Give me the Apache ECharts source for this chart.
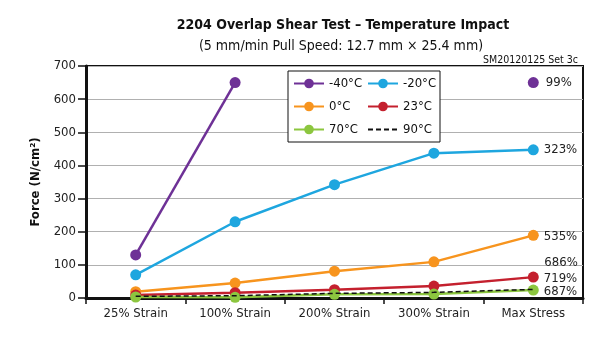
<!DOCTYPE html>
<html>
<head>
<meta charset="utf-8">
<script src="https://cdn.jsdelivr.net/npm/echarts@6/dist/echarts.min.js"></script>
<style>
  html, body { margin: 0; padding: 0; background: #fff; }
  #chart { width: 615px; height: 350px; }
</style>
</head>
<body>
<div id="chart"></div>
<script>
// categories along the x axis
var categories = ['25% Strain', '100% Strain', '200% Strain', '300% Strain', 'Max Stress']

// force values (N/cm2) per temperature
var names = ['-40°C', '-20°C', '0°C', '23°C', '70°C', '90°C']
var m40 = [130, 650, '-', '-', 650]
var m20 = [70, 230, 342, 437, 447]
var t0 = [19, 45, 81, 109, 189]
var t23 = [9, 16, 25, 36, 63]
var t70 = [3, 2, 11, 12, 24]
var t90 = [5, 7, 14, 17, 26]

// elongation labels at the end of each line
var endLabels = ['99%', '323%', '535%', '719%', '687%', '686%']

var colors = ['#6e3196', '#1ea6df', '#f7941e', '#c4202e', '#8cc63f', '#111111']
var font = "'DejaVu Sans Condensed', 'Liberation Sans', sans-serif"

var allData = [m40, m20, t0, t23, t70, t90]
var labelOffset = [[2, 0], [0, 0], [0, 1], [0, 2], [0, 2], [6, -27]]

// put the percentage label on the last point only
function withEndLabel(values, i) {
  return values.map(function (v, k) {
    if (k !== values.length - 1) return v
    return {
      value: v,
      label: {
        show: true,
        position: 'right',
        distance: 5,
        offset: labelOffset[i],
        formatter: endLabels[i],
        color: '#222',
        fontSize: 13,
        fontFamily: font
      }
    }
  })
}

var series = allData.map(function (values, i) {
  var dashed = i === 5
  return {
    name: names[i],
    type: 'line',
    data: withEndLabel(values, i),
    connectNulls: false,
    symbol: 'circle',
    symbolSize: dashed ? 0.1 : 11,
    showAllSymbol: true,
    itemStyle: { color: colors[i] },
    lineStyle: { color: colors[i], width: dashed ? 1.5 : 2.5, type: dashed ? [5, 3] : 'solid' },
    emphasis: { disabled: true },
    z: 2 + i
  }
})

// the dashed 90°C line has no marker in the legend
var legendData = names.map(function (n, i) {
  return i === 5 ? { name: n, itemStyle: { opacity: 0 } } : { name: n }
})

var option = {
  animation: false,
  color: colors,
  title: [
    {
      text: '2204 Overlap Shear Test – Temperature Impact',
      left: 338, top: 13, textAlign: 'center',
      textStyle: { fontSize: 14, fontWeight: 'bold', color: '#111', fontFamily: font }
    },
    {
      text: '(5 mm/min Pull Speed: 12.7 mm × 25.4 mm)',
      left: 336, top: 34, textAlign: 'center',
      textStyle: { fontSize: 14, fontWeight: 'normal', color: '#111', fontFamily: font }
    },
    {
      text: 'SM20120125 Set 3c',
      right: 32, top: 50,
      textStyle: { fontSize: 10.5, fontWeight: 'normal', color: '#111', fontFamily: font }
    }
  ],
  legend: {
    data: legendData,
    left: 288, top: 71,
    width: 160,
    padding: [3, 3, 3, 5],
    itemGap: 4,
    itemWidth: 30,
    itemHeight: 12,
    borderColor: '#111',
    borderWidth: 1,
    backgroundColor: '#fff',
    textStyle: { fontSize: 13, width: 34, lineHeight: 19, color: '#111', fontFamily: font }
  },
  grid: {
    left: 86, right: 32, top: 66, bottom: 52,
    show: true, borderColor: '#111', borderWidth: 2
  },
  xAxis: {
    type: 'category',
    data: categories,
    boundaryGap: true,
    axisLine: { lineStyle: { color: '#111', width: 3 } },
    axisTick: { show: true, length: 6, lineStyle: { color: '#111', width: 1.5 } },
    axisLabel: { interval: 0, fontSize: 13, color: '#222', margin: 9, fontFamily: font }
  },
  yAxis: {
    type: 'value',
    min: 0, max: 700, interval: 100,
    name: 'Force (N/cm²)',
    nameLocation: 'middle',
    nameGap: 44,
    nameTextStyle: { fontSize: 13, fontWeight: 'bold', color: '#111', fontFamily: font },
    axisLine: { show: true, lineStyle: { color: '#111', width: 3 } },
    axisTick: { show: true, length: 8, lineStyle: { color: '#111', width: 1.5 } },
    axisLabel: { fontSize: 13, color: '#222', margin: 10, fontFamily: font },
    splitLine: { lineStyle: { color: '#b0b0b0', width: 1 } }
  },
  series: series
}

echarts.init(document.getElementById('chart')).setOption(option)
</script>
</body>
</html>
